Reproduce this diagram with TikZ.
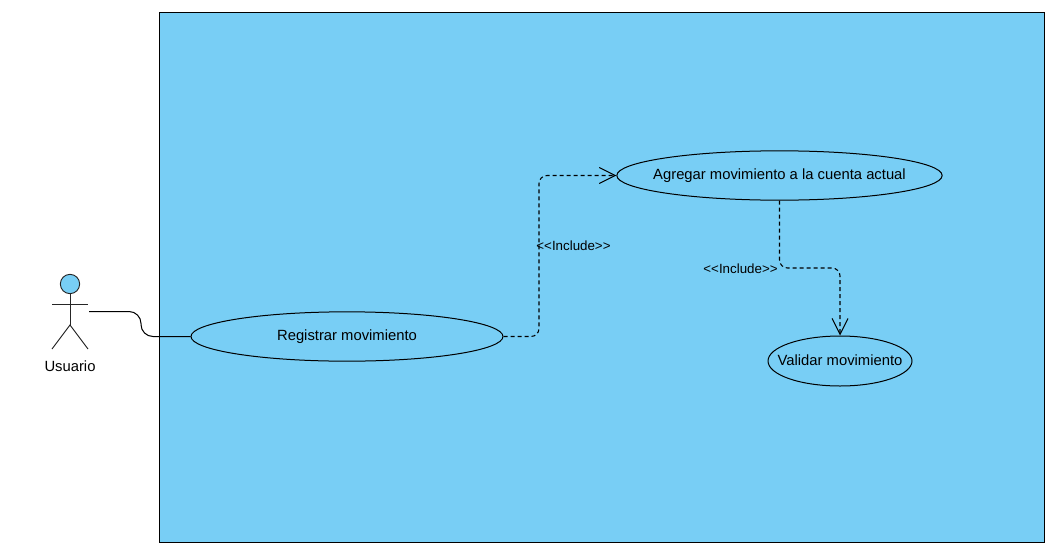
\documentclass[tikz,border=0pt]{standalone}
\usepackage{fontspec}
\setmainfont{Liberation Sans}
\usetikzlibrary{shapes.geometric,arrows.meta}
\definecolor{paneblue}{HTML}{78CEF5}
\tikzset{
  usecase/.style={draw,ellipse,fill=paneblue,inner xsep=-15pt,inner ysep=0pt,line width=0.75pt},
  stereo/.style={font=\fontsize{10}{12}\selectfont,inner sep=0pt},
  include/.style={dash pattern=on 3pt off 2.25pt,rounded corners=6pt,line width=0.8pt,-{Straight Barb[length=12pt,width=12pt,line width=0.75pt]}},
  limb/.style={line width=0.7pt,draw=black!85}
}
\begin{document}
\begin{tikzpicture}[x=0.75pt,y=-0.75pt,every node/.style={font=\fontsize{11.1}{13}\selectfont}]
\useasboundingbox (0,0) rectangle (1059,553);
% system frame
\draw[fill=paneblue,line width=0.75pt] (159,12.5) rectangle (1044,542);
% actor
\node[draw=black!85,circle,fill=paneblue,minimum size=14.5pt,inner sep=0pt,line width=0.7pt] (head) at (70,284) {};
\coordinate (hip) at (70,325);
\coordinate (hand) at (89,311.5);
\coordinate (bend) at (141,325);
\draw[limb] (head.south) -- (hip);
\draw[limb] (52,304) -- (88,304);
\draw[limb] (52,349) -- (hip) -- (88,349);
\node[inner sep=0pt] (usuario) at (70,366.5) {Usuario};
% use cases
\node[usecase,minimum width=234pt,minimum height=37pt] (registrar) at (347,336.5) {Registrar movimiento};
\node[usecase,minimum width=244pt,minimum height=37pt] (agregar) at (779.5,175.5) {Agregar movimiento a la cuenta actual};
\node[usecase,minimum width=108pt,minimum height=37.5pt] (validar) at (840,361) {\raisebox{0.6pt}{Validar movimiento}};
% connectors
\coordinate (turnA) at (539,250);
\coordinate (turnB) at (810,268);
\draw[line width=0.75pt,rounded corners=9pt] (hand) -| (bend |- registrar.west) -- (registrar.west);
\draw[include] (registrar.east) -| (turnA |- agregar.west) -- (agregar.west);
\draw[include] (agregar.south) |- (validar.north |- turnB) -- (validar.north);
\node[stereo] (incA) at (573.5,246) {{<}{<}Include{>}{>}};
\node[stereo] (incB) at (740.5,268.5) {{<}{<}Include{>}{>}};
\end{tikzpicture}
\end{document}
